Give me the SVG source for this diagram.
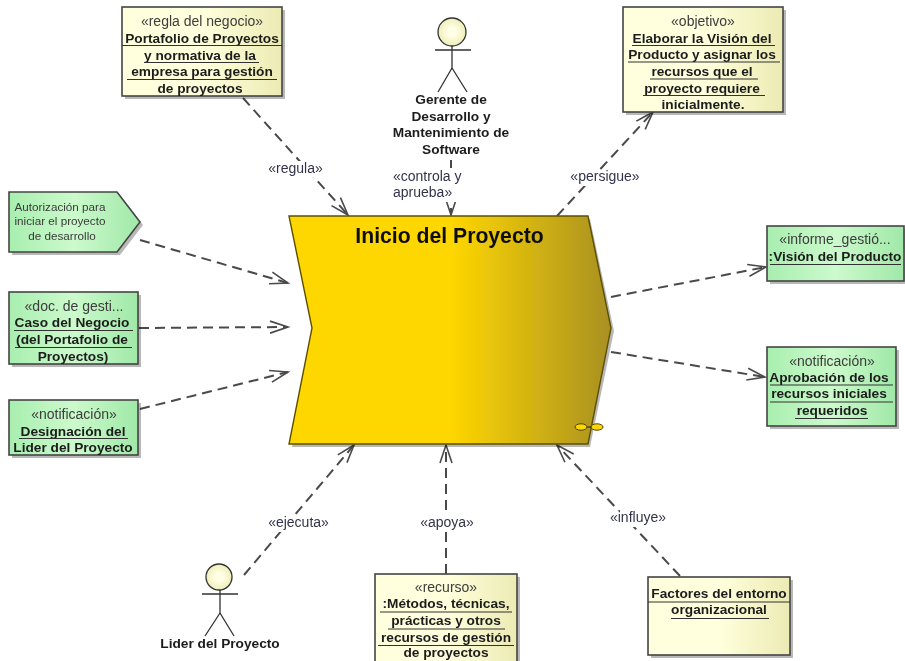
<svg xmlns="http://www.w3.org/2000/svg" width="905" height="661" viewBox="0 0 905 661">
<style>
text{font-family:"Liberation Sans",Arial,sans-serif;text-anchor:middle;fill:#1c1c1c}
.b{font-size:13.7px;font-weight:bold}
.s{font-size:14px;fill:#3c3c3c}
.l{font-size:14px;fill:#33334a}
.e{font-size:11.7px;fill:#3a3a3a}
.t{font-size:21.200px;font-weight:bold;fill:#111}
.bx{stroke:#444;stroke-width:1.6}
.sh{fill:#000;opacity:.28}
.u{stroke:#333;stroke-width:1.1;fill:none}
.c{stroke:#4a4a4a;stroke-width:2;fill:none;stroke-dasharray:10 6;marker-end:url(#open)}
.a{stroke:#333;stroke-width:1.3;fill:none}
.y{fill:url(#yel)}.g{fill:url(#grn)}
</style>
<defs>
<linearGradient id="yel"><stop offset="0.5" stop-color="#ffffdd"/><stop offset="1" stop-color="#ecebb4"/></linearGradient>
<linearGradient id="grn"><stop offset="0" stop-color="#a8eeaf"/><stop offset="0.5" stop-color="#ccfacc"/><stop offset="1" stop-color="#a0e8a8"/></linearGradient>
<linearGradient id="gold"><stop offset="0.5" stop-color="#ffd700"/><stop offset="1" stop-color="#a89022"/></linearGradient>
<radialGradient id="head"><stop offset="0.3" stop-color="#ffffe6"/><stop offset="1" stop-color="#eeeeb8"/></radialGradient>
<marker id="open" markerUnits="userSpaceOnUse" markerWidth="22" markerHeight="20" refX="19" refY="10" orient="auto"><path d="M1 4L19 10L1 16" fill="none" stroke="#4a4a4a" stroke-width="1.6" stroke-dasharray="none"/></marker>
<filter id="soft" x="-2%" y="-2%" width="104%" height="104%"><feGaussianBlur stdDeviation="0.4"/></filter>
</defs>
<rect width="905" height="661" fill="#fff"/>
<g filter="url(#soft)">
<g id="connectors">
<path class="c" d="M243 98L348 215"/>
<path class="c" d="M451 160V215"/>
<path class="c" d="M557 216L653 112"/>
<path class="c" d="M140 240L288 283"/>
<path class="c" d="M139 328L288 327"/>
<path class="c" d="M140 409L288 372"/>
<path class="c" d="M611 297L766 267"/>
<path class="c" d="M611 352L765 377"/>
<path class="c" d="M244 575L354 445"/>
<path class="c" d="M446 574V445"/>
<path class="c" d="M680 576L557 445"/>
<g fill="#fff">
<rect x="267" y="161" width="57" height="16"/>
<rect x="392" y="168" width="70" height="34"/>
<rect x="568" y="170" width="74" height="16"/>
<rect x="267" y="516" width="63" height="16"/>
<rect x="419" y="516" width="56" height="16"/>
<rect x="609" y="511" width="58" height="16"/>
</g>
<text class="l" x="295.500" y="173">«regula»</text>
<text class="l" x="393" y="181" style="text-anchor:start">«controla y</text>
<text class="l" x="393" y="197" style="text-anchor:start">aprueba»</text>
<text class="l" x="605" y="181">«persigue»</text>
<text class="l" x="298.500" y="527">«ejecuta»</text>
<text class="l" x="447" y="527">«apoya»</text>
<text class="l" x="638" y="522">«influye»</text>
</g>
<g id="main">
<path class="sh" d="M292 219H590L614 331L590 447H292L315 331Z"/>
<path d="M289 216H588L611 328L588 444H289L312 328Z" fill="url(#gold)" stroke="#5c5000" stroke-width="1.4"/>
<text class="t" x="449.500" y="243">Inicio del Proyecto</text>
<path d="M581 427H598" stroke="#333" stroke-width="1.2"/>
<ellipse cx="581" cy="427" rx="6" ry="3.200" fill="#ffd700" stroke="#4a4000"/>
<ellipse cx="597" cy="427" rx="6" ry="3.200" fill="#ffd700" stroke="#4a4000"/>
</g>
<g id="regla">
<rect class="sh" x="125" y="10" width="160" height="89"/>
<rect class="bx y" x="122" y="7" width="160" height="89"/>
<text class="s" x="202" y="26">«regla del negocio»</text>
<text class="b" x="202" y="43">Portafolio de Proyectos</text>
<text class="b" x="200" y="60">y normativa de la</text>
<text class="b" x="202" y="76">empresa para gestión</text>
<text class="b" x="200" y="93">de proyectos</text>
<path class="u" d="M122 45.500H282M144 62.500H259M127 79.500H277"/>
</g>
<g id="gerente">
<circle cx="452" cy="32" r="14" fill="url(#head)" stroke="#333" stroke-width="1.300"/>
<path class="a" d="M452 46V68M435 50H471M452 68L438 92M452 68L467 92"/>
<text class="b" x="451" y="104">Gerente de</text>
<text class="b" x="451" y="121">Desarrollo y</text>
<text class="b" x="451" y="137">Mantenimiento de</text>
<text class="b" x="451" y="154">Software</text>
</g>
<g id="objetivo">
<rect class="sh" x="626" y="10" width="160" height="105"/>
<rect class="bx y" x="623" y="7" width="160" height="105"/>
<text class="s" x="703" y="26">«objetivo»</text>
<text class="b" x="702" y="43">Elaborar la Visión del</text>
<text class="b" x="702" y="59">Producto y asignar los</text>
<text class="b" x="702" y="76">recursos que el</text>
<text class="b" x="702" y="93">proyecto requiere</text>
<text class="b" x="703" y="109">inicialmente.</text>
<path class="u" d="M632 45.500H775M628 62H780M650 79H758M643 95.500H765"/>
</g>
<g id="autorizacion">
<path class="sh" d="M12 195H120L143 225L120 255H12Z"/>
<path class="bx g" d="M9 192H117L140 222L117 252H9Z"/>
<text class="e" x="60" y="211">Autorización para</text>
<text class="e" x="60" y="225">iniciar el proyecto</text>
<text class="e" x="62" y="240">de desarrollo</text>
</g>
<g id="caso">
<rect class="sh" x="12" y="295" width="129" height="72"/>
<rect class="bx g" x="9" y="292" width="129" height="72"/>
<text class="s" x="74" y="311">«doc. de gesti...</text>
<text class="b" x="72" y="327">Caso del Negocio</text>
<text class="b" x="72" y="344">(del Portafolio de</text>
<text class="b" x="73" y="361">Proyectos)</text>
<path class="u" d="M14 330.500H133M15 347.500H132"/>
</g>
<g id="designacion">
<rect class="sh" x="12" y="403" width="129" height="55"/>
<rect class="bx g" x="9" y="400" width="129" height="55"/>
<text class="s" x="74" y="419">«notificación»</text>
<text class="b" x="73" y="436">Designación del</text>
<text class="b" x="73" y="452">Lider del Proyecto</text>
<path class="u" d="M19 438.500H128"/>
</g>
<g id="vision">
<rect class="sh" x="770" y="229" width="137" height="55"/>
<rect class="bx g" x="767" y="226" width="137" height="55"/>
<text class="s" x="835" y="244">«informe_gestió...</text>
<text class="b" x="835" y="261">:Visión del Producto</text>
<path class="u" d="M770 264.500H901"/>
</g>
<g id="aprobacion">
<rect class="sh" x="770" y="350" width="129" height="79"/>
<rect class="bx g" x="767" y="347" width="129" height="79"/>
<text class="s" x="832" y="366">«notificación»</text>
<text class="b" x="829" y="382">Aprobación de los</text>
<text class="b" x="829" y="398">recursos iniciales</text>
<text class="b" x="832" y="415">requeridos</text>
<path class="u" d="M770 385H893M770 402H893M795 418.500H868"/>
</g>
<g id="lider">
<circle cx="219" cy="577" r="13" fill="url(#head)" stroke="#333" stroke-width="1.300"/>
<path class="a" d="M220 590V613M202 594H238M220 613L205 636M220 613L234 636"/>
<text class="b" x="220" y="648">Lider del Proyecto</text>
</g>
<g id="recurso">
<rect class="sh" x="378" y="577" width="142" height="84"/>
<rect class="bx y" x="375" y="574" width="142" height="90"/>
<text class="s" x="446" y="592">«recurso»</text>
<text class="b" x="446" y="608">:Métodos, técnicas,</text>
<text class="b" x="446" y="625">prácticas y otros</text>
<text class="b" x="446" y="642">recursos de gestión</text>
<text class="b" x="446" y="657">de proyectos</text>
<path class="u" d="M380 612H512M388 629H505M378 645.500H514"/>
</g>
<g id="factores">
<rect class="sh" x="651" y="580" width="142" height="78"/>
<rect class="bx y" x="648" y="577" width="142" height="78"/>
<text class="b" x="719" y="598">Factores del entorno</text>
<text class="b" x="719" y="614">organizacional</text>
<path class="u" d="M648 602H790M671 618.500H769"/>
</g>
</g>
</svg>
